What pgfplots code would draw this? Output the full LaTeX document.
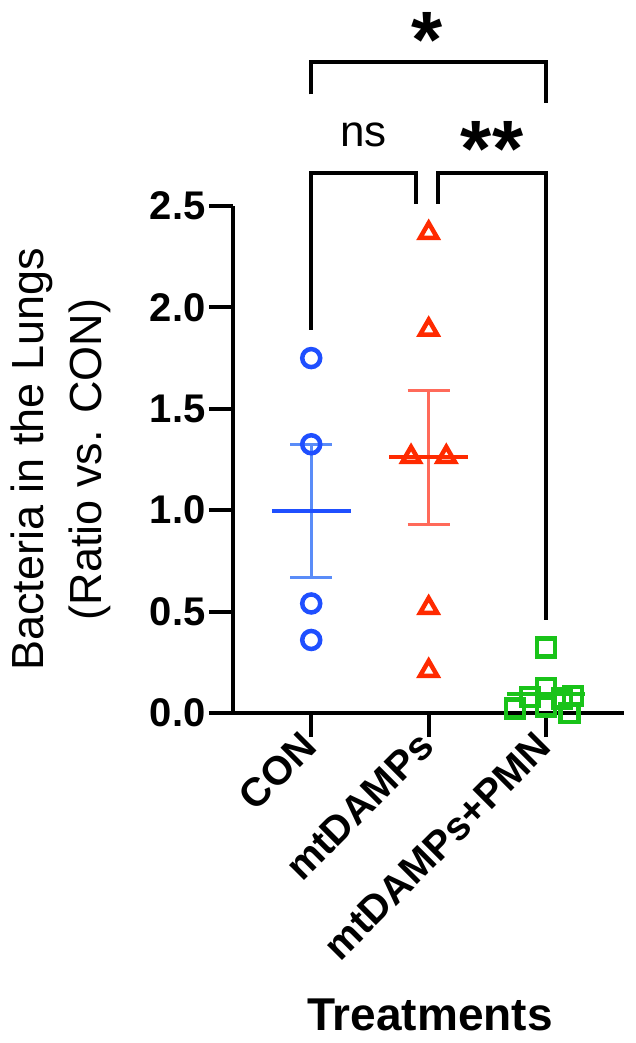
\documentclass[border=0pt]{standalone}
\usepackage{pgfplots}
\pgfplotsset{compat=1.18}
\usepackage{fontspec}
\setmainfont{Liberation Sans}
\definecolor{cblue}{HTML}{1F4FFF}
\definecolor{cblueL}{HTML}{5A8CF8}
\definecolor{cred}{HTML}{FF2A00}
\definecolor{credL}{HTML}{FF6A5A}
\definecolor{cgreen}{HTML}{19C319}
\begin{document}
\begin{tikzpicture}[x=1pt,y=1pt]
\begin{axis}[
  at={(233pt,330pt)}, anchor=south west,
  scale only axis, width=391pt, height=507pt,
  xmin=-0.666, xmax=2.663, ymin=0, ymax=2.5,
  axis lines*=left,
  axis line style={-, line width=4pt, black},
  xtick={0,1,2}, xticklabels={CON,mtDAMPs,mtDAMPs+PMN},
  ytick={0,0.5,1,1.5,2,2.5},
  tick align=outside, major tick length=24pt,
  tick style={line width=4pt, black},
  /pgf/number format/assume math mode=true,
  yticklabel style={font=\bfseries\fontsize{40}{44}\selectfont, /pgf/number format/fixed, /pgf/number format/fixed zerofill, /pgf/number format/precision=1},
  xticklabel style={font=\bfseries\fontsize{40}{44}\selectfont, rotate=45, anchor=east},
  ylabel={Bacteria in the Lungs\\(Ratio vs. CON)},
  ylabel style={font=\fontsize{45}{58}\selectfont, align=center, at={(axis description cs:-0.44,0.5)}, anchor=center},
  xlabel={Treatments},
  xlabel style={font=\bfseries\fontsize{46}{50}\selectfont, at={(axis description cs:0.504,-0.596)}, anchor=center},
  clip=false,
]
% CON
\addplot[cblueL, line width=3pt] coordinates {(0,0.668) (0,1.325)};
\addplot[cblueL, line width=3pt] coordinates {(-0.18,1.325) (0.18,1.325)};
\addplot[cblueL, line width=3pt] coordinates {(-0.18,0.668) (0.18,0.668)};
\addplot[cblue, line width=4pt] coordinates {(-0.335,0.995) (0.335,0.995)};
\addplot[only marks, mark=o, mark size=9pt, cblue, line width=4.5pt, mark options={fill=white}] coordinates {(0,1.75) (0,1.325) (0,0.54) (0,0.36)};
% mtDAMPs
\addplot[credL, line width=3pt] coordinates {(1,0.928) (1,1.59)};
\addplot[credL, line width=3pt] coordinates {(0.82,1.59) (1.18,1.59)};
\addplot[credL, line width=3pt] coordinates {(0.82,0.928) (1.18,0.928)};
\addplot[cred, line width=4pt] coordinates {(0.665,1.26) (1.335,1.26)};
\addplot[only marks, mark=triangle, mark size=10pt, cred, line width=4.5pt, mark options={fill=white}] coordinates {(1,2.367) (1,1.89) (0.85,1.263) (1.15,1.263) (1,0.518) (1,0.208)};
% mtDAMPs+PMN
\addplot[cgreen, line width=4pt] coordinates {(1.665,0.092) (2.335,0.092)};
\addplot[only marks, mark=square, mark size=9pt, cgreen, line width=4.5pt, mark options={fill=white}] coordinates {(2,0.322) (2,0.124) (1.863,0.08) (2.134,0.071) (2.227,0.083) (2,0.032) (1.734,0.021) (2.2,0.0)};
% significance brackets
\draw[line width=4pt] (axis cs:0,1.89) -- (axis cs:0,2.665) -- (axis cs:0.89,2.665) -- (axis cs:0.89,2.51);
\draw[line width=4pt] (axis cs:1.08,2.51) -- (axis cs:1.08,2.665) -- (axis cs:2,2.665) -- (axis cs:2,0.46);
\draw[line width=4pt] (axis cs:0,3.05) -- (axis cs:0,3.21) -- (axis cs:2,3.21) -- (axis cs:2,3.01);
\node[font=\fontsize{44}{48}\selectfont] at (axis cs:0.445,2.85) {ns};
\node[font=\bfseries\fontsize{80}{88}\selectfont, anchor=center] at (axis cs:1.54,2.78) {**};
\node[font=\bfseries\fontsize{80}{88}\selectfont, anchor=center] at (axis cs:0.99,3.32) {*};
\end{axis}
\pgfresetboundingbox
\path (0,0) rectangle (636,1043);
\end{tikzpicture}
\end{document}
